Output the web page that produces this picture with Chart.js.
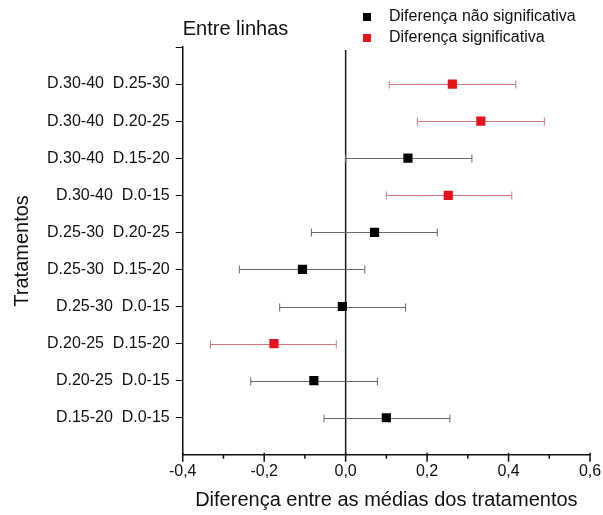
<!DOCTYPE html>
<html>
<head>
<meta charset="utf-8">
<script src="https://cdn.jsdelivr.net/npm/chart.js@4.4.1/dist/chart.umd.min.js"></script>
<style>
  html, body { margin: 0; padding: 0; background: #fff; }
  #wrap { width: 603px; height: 515px; }
</style>
</head>
<body>
<div id="wrap"><canvas id="forestChart"></canvas></div>
<script>
// comparações, de cima para baixo
const treatments = [
  'D.30-40  D.25-30', 'D.30-40  D.20-25', 'D.30-40  D.15-20', 'D.30-40  D.0-15',
  'D.25-30  D.20-25', 'D.25-30  D.15-20', 'D.25-30  D.0-15', 'D.20-25  D.15-20',
  'D.20-25  D.0-15', 'D.15-20  D.0-15'
];
const means = [0.262, 0.332, 0.153, 0.252, 0.071, -0.106, -0.008, -0.176, -0.078, 0.100];
const lower = [0.107, 0.176, 0.000, 0.100, -0.084, -0.261, -0.162, -0.332, -0.233, -0.053];
const upper = [0.418, 0.488, 0.310, 0.408, 0.225, 0.047, 0.147, -0.023, 0.078, 0.256];
const significant = [true, true, false, true, false, false, false, true, false, false];

const xTickValues = [-0.4, -0.2, 0, 0.2, 0.4, 0.6];
const xTickLabels = ['-0,4', '-0,2', '0,0', '0,2', '0,4', '0,6'];
const xMinorTicks = [-0.3, -0.1, 0.1, 0.3, 0.5];

const seriesNames = ['Diferença não significativa', 'Diferença significativa'];
const chartTitle = 'Entre linhas';

const FONT = 'Liberation Sans, Arial, sans-serif';
const RED = '#e3121b';
const BLACK = '#000000';

// pontos de cada série
let ptsNS = [];
let ptsS = [];
for (var i = 0; i < means.length; i++) {
  const p = { x: means[i], y: i + 1 };
  if (significant[i]) ptsS.push(p); else ptsNS.push(p);
}

// barras de erro, linha do zero, ticks do eixo x, título e legenda
const forestPlugin = {
  id: 'forest',
  beforeDatasetsDraw(chart) {
    const ctx = chart.ctx;
    const x = chart.scales.x;
    const y = chart.scales.y;
    const area = chart.chartArea;
    ctx.save();
    // linha vertical no zero
    const x0 = x.getPixelForValue(0);
    ctx.strokeStyle = '#1a1a1a';
    ctx.lineWidth = 1.5;
    ctx.beginPath();
    ctx.moveTo(x0, area.top + 3);
    ctx.lineTo(x0, area.bottom);
    ctx.stroke();
    // ticks do eixo x (maiores cruzam o eixo, menores só por baixo)
    ctx.strokeStyle = '#111';
    ctx.beginPath();
    xTickValues.forEach(function (v) {
      const px = x.getPixelForValue(v);
      ctx.moveTo(px, area.bottom - 2); ctx.lineTo(px, area.bottom + 7);
    });
    xMinorTicks.forEach(function (v) {
      const px = x.getPixelForValue(v);
      ctx.moveTo(px, area.bottom); ctx.lineTo(px, area.bottom + 4);
    });
    ctx.stroke();
    // intervalos
    ctx.lineWidth = 1;
    for (var i = 0; i < means.length; i++) {
      const py = Math.round(y.getPixelForValue(i + 1)) + 0.5;
      const a = x.getPixelForValue(lower[i]);
      const b = x.getPixelForValue(upper[i]);
      ctx.strokeStyle = significant[i] ? '#d47878' : '#6a6a6a';
      ctx.beginPath();
      ctx.moveTo(a, py); ctx.lineTo(b, py);
      ctx.moveTo(a, py - 4); ctx.lineTo(a, py + 4);
      ctx.moveTo(b, py - 4); ctx.lineTo(b, py + 4);
      ctx.stroke();
    }
    ctx.restore();
  },
  afterDraw(chart) {
    const ctx = chart.ctx;
    const area = chart.chartArea;
    ctx.save();
    ctx.fillStyle = '#111';
    ctx.textBaseline = 'middle';
    ctx.font = '20px ' + FONT;
    ctx.fillText(chartTitle, area.left, 29);
    // legenda
    ctx.font = '16px ' + FONT;
    chart.data.datasets.forEach(function (ds, k) {
      const ly = 17 + k * 21;
      ctx.fillStyle = ds.backgroundColor;
      ctx.fillRect(363, ly - 4, 8, 8);
      ctx.fillStyle = '#111';
      ctx.fillText(ds.label, 389, ly);
    });
    ctx.restore();
  }
};

var context = document.getElementById('forestChart').getContext('2d');
var forestChart = new Chart(context, {
  type: 'scatter',
  data: {
    datasets: [
      {
        label: seriesNames[0],
        data: ptsNS,
        backgroundColor: BLACK,
        borderColor: BLACK,
        pointStyle: 'rect',
        pointRadius: 6.5,
        borderWidth: 0
      },
      {
        label: seriesNames[1],
        data: ptsS,
        backgroundColor: RED,
        borderColor: RED,
        pointStyle: 'rect',
        pointRadius: 6.5,
        borderWidth: 0
      }
    ]
  },
  options: {
    responsive: true,
    maintainAspectRatio: false,
    animation: false,
    layout: { padding: { top: 47, right: 0, left: 10, bottom: 0 } },
    plugins: {
      legend: { display: false },
      title: { display: false },
      tooltip: { enabled: false }
    },
    scales: {
      x: {
        type: 'linear',
        min: -0.4,
        max: 0.6,
        afterBuildTicks: function (scale) {
          scale.ticks = xTickValues.map(function (v) { return { value: v }; });
        },
        afterFit: function (scale) {
          // só o espaço da metade do último rótulo
          scale.paddingRight = 13;
        },
        ticks: {
          autoSkip: false,
          maxRotation: 0,
          color: '#111',
          padding: 7,
          font: { family: FONT, size: 16 },
          callback: function (v, idx) { return xTickLabels[idx]; }
        },
        grid: { drawOnChartArea: false, drawTicks: false },
        border: { display: true, color: '#111', width: 1.5 },
        title: {
          display: true,
          text: 'Diferença entre as médias dos tratamentos',
          color: '#111',
          font: { family: FONT, size: 20 },
          padding: { top: 0, bottom: 3 }
        }
      },
      y: {
        type: 'linear',
        reverse: true,
        min: 0,
        max: 11,
        afterBuildTicks: function (scale) {
          let t = [];
          for (var k = 0; k <= treatments.length; k++) t.push({ value: k });
          scale.ticks = t;
        },
        ticks: {
          autoSkip: false,
          color: '#111',
          padding: 6,
          font: { family: FONT, size: 16 },
          callback: function (v) { return treatments[v - 1] || ''; }
        },
        grid: { drawOnChartArea: false, drawTicks: true, tickLength: 7, color: '#111' },
        border: { display: true, color: '#111', width: 1.5 },
        title: {
          display: true,
          text: 'Tratamentos',
          color: '#111',
          font: { family: FONT, size: 20 },
          padding: { top: 0, bottom: 7 }
        }
      }
    }
  },
  plugins: [forestPlugin]
});
</script>
</body>
</html>
